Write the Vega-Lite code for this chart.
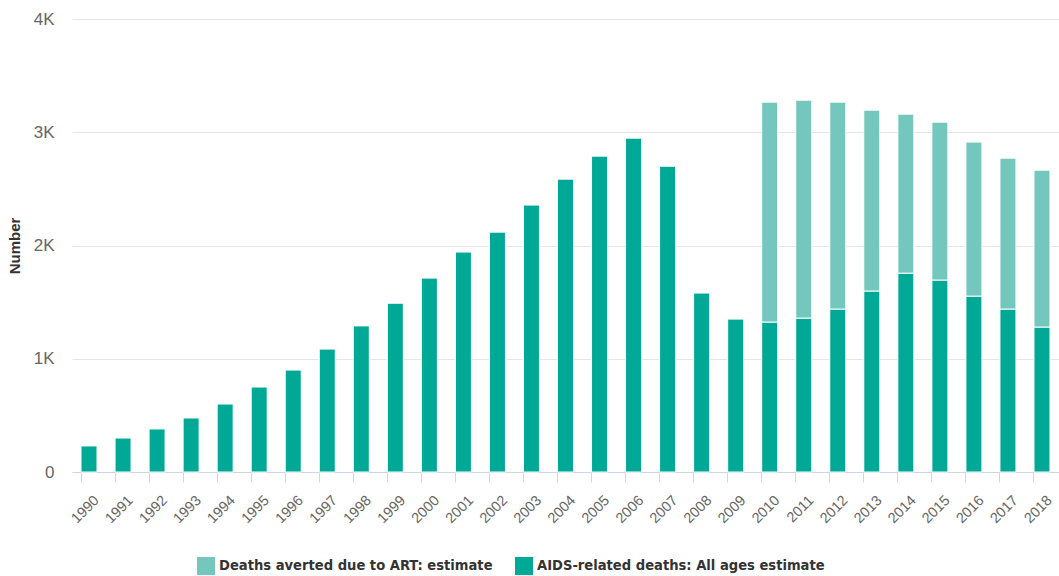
{
  "$schema": "https://vega.github.io/schema/vega-lite/v6.json",
  "width": 987,
  "height": 453,
  "autosize": {"type": "none"},
  "padding": {"left": 72, "top": 19, "right": 0, "bottom": 104},
  "background": "white",
  "data": {
    "values": [
      {"year": "1990", "series": "AIDS-related deaths: All ages estimate", "value": 230},
      {"year": "1991", "series": "AIDS-related deaths: All ages estimate", "value": 300},
      {"year": "1992", "series": "AIDS-related deaths: All ages estimate", "value": 380},
      {"year": "1993", "series": "AIDS-related deaths: All ages estimate", "value": 477},
      {"year": "1994", "series": "AIDS-related deaths: All ages estimate", "value": 600},
      {"year": "1995", "series": "AIDS-related deaths: All ages estimate", "value": 750},
      {"year": "1996", "series": "AIDS-related deaths: All ages estimate", "value": 900},
      {"year": "1997", "series": "AIDS-related deaths: All ages estimate", "value": 1085},
      {"year": "1998", "series": "AIDS-related deaths: All ages estimate", "value": 1290},
      {"year": "1999", "series": "AIDS-related deaths: All ages estimate", "value": 1490},
      {"year": "2000", "series": "AIDS-related deaths: All ages estimate", "value": 1712},
      {"year": "2001", "series": "AIDS-related deaths: All ages estimate", "value": 1942},
      {"year": "2002", "series": "AIDS-related deaths: All ages estimate", "value": 2118},
      {"year": "2003", "series": "AIDS-related deaths: All ages estimate", "value": 2357},
      {"year": "2004", "series": "AIDS-related deaths: All ages estimate", "value": 2586},
      {"year": "2005", "series": "AIDS-related deaths: All ages estimate", "value": 2789},
      {"year": "2006", "series": "AIDS-related deaths: All ages estimate", "value": 2948},
      {"year": "2007", "series": "AIDS-related deaths: All ages estimate", "value": 2700},
      {"year": "2008", "series": "AIDS-related deaths: All ages estimate", "value": 1580},
      {"year": "2009", "series": "AIDS-related deaths: All ages estimate", "value": 1350},
      {"year": "2010", "series": "AIDS-related deaths: All ages estimate", "value": 1324},
      {"year": "2011", "series": "AIDS-related deaths: All ages estimate", "value": 1359},
      {"year": "2012", "series": "AIDS-related deaths: All ages estimate", "value": 1439},
      {"year": "2013", "series": "AIDS-related deaths: All ages estimate", "value": 1598},
      {"year": "2014", "series": "AIDS-related deaths: All ages estimate", "value": 1756},
      {"year": "2015", "series": "AIDS-related deaths: All ages estimate", "value": 1695},
      {"year": "2016", "series": "AIDS-related deaths: All ages estimate", "value": 1553},
      {"year": "2017", "series": "AIDS-related deaths: All ages estimate", "value": 1439},
      {"year": "2018", "series": "AIDS-related deaths: All ages estimate", "value": 1280},
      {"year": "2010", "series": "Deaths averted due to ART: estimate", "value": 1942},
      {"year": "2011", "series": "Deaths averted due to ART: estimate", "value": 1924},
      {"year": "2012", "series": "Deaths averted due to ART: estimate", "value": 1827},
      {"year": "2013", "series": "Deaths averted due to ART: estimate", "value": 1597},
      {"year": "2014", "series": "Deaths averted due to ART: estimate", "value": 1404},
      {"year": "2015", "series": "Deaths averted due to ART: estimate", "value": 1394},
      {"year": "2016", "series": "Deaths averted due to ART: estimate", "value": 1360},
      {"year": "2017", "series": "Deaths averted due to ART: estimate", "value": 1332},
      {"year": "2018", "series": "Deaths averted due to ART: estimate", "value": 1385}
    ]
  },
  "mark": {"type": "bar", "stroke": "white", "strokeWidth": 1},
  "encoding": {
    "x": {
      "field": "year",
      "type": "ordinal",
      "scale": {"paddingInner": 0.53, "paddingOuter": 0.265},
      "axis": {
        "title": null,
        "labelAngle": -45,
        "labelFont": "Liberation Sans",
        "labelFontSize": 14.5,
        "labelColor": "#666666",
        "domainColor": "#ccd6eb",
        "tickColor": "#ccd6eb",
        "tickSize": 10,
        "bandPosition": 0,
        "labelPadding": 11,
        "labelOffset": 3,
        "grid": false
      }
    },
    "y": {
      "field": "value",
      "type": "quantitative",
      "stack": "zero",
      "scale": {"domain": [0, 4000], "nice": false},
      "axis": {
        "title": "Number",
        "titleFont": "Liberation Sans",
        "titleFontSize": 15,
        "titleFontWeight": "bold",
        "titleColor": "#333333",
        "titlePadding": 11,
        "values": [0, 1000, 2000, 3000, 4000],
        "labelExpr": "datum.value == 0 ? '0' : (datum.value / 1000) + 'K'",
        "labelFont": "Liberation Sans",
        "labelFontSize": 17,
        "labelColor": "#666666",
        "labelPadding": 18,
        "ticks": false,
        "domain": false,
        "grid": true,
        "gridColor": "#e6e6e6"
      }
    },
    "color": {
      "field": "series",
      "type": "nominal",
      "scale": {
        "domain": ["Deaths averted due to ART: estimate", "AIDS-related deaths: All ages estimate"],
        "range": ["#73c7bd", "#00a896"]
      },
      "legend": {
        "title": null,
        "orient": "none",
        "direction": "horizontal",
        "legendX": 125,
        "legendY": 538,
        "symbolType": "square",
        "symbolSize": 324,
        "symbolStrokeWidth": 0,
        "labelFont": "DejaVu Sans Condensed",
        "labelFontSize": 14.6,
        "labelFontWeight": "bold",
        "labelColor": "#333333",
        "columnPadding": 22,
        "labelLimit": 400
      }
    },
    "order": {"field": "series", "sort": "ascending"}
  },
  "config": {"view": {"stroke": null}}
}
